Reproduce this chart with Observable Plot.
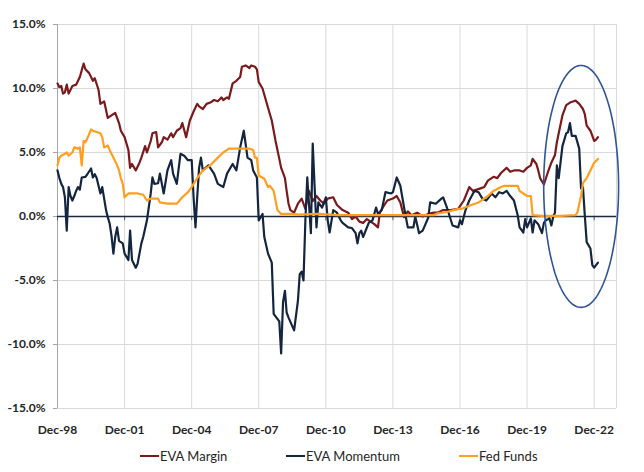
<!DOCTYPE html>
<html>
<head>
<meta charset="utf-8">
<script src="https://cdn.jsdelivr.net/npm/d3@7"></script>
<script src="https://cdn.jsdelivr.net/npm/@observablehq/plot@0.6"></script>
<style>
  html, body { margin: 0; padding: 0; background: #fff; }
  #wrap { width: 644px; height: 472px; position: relative; font-family: Lato, "Open Sans", sans-serif; }
  #legend { position: relative; height: 27px; width: 644px; font-size: 13px; color: #262626; }
  .item { position: absolute; top: 3px; display: flex; align-items: center; white-space: nowrap; }
  .swatch { display: inline-block; width: 19px; height: 2.5px; margin-right: 1px; }
</style>
</head>
<body>
<div id="wrap">
  <div id="chart"></div>
  <div id="legend"></div>
</div>
<script>
// Months counted from Dec-1998 (0 = Dec-98), values in percent
const evaMargin = [
  [0,10.4],[1,10.1],[2,10.2],[3,9.6],[4,9.7],[5,10.3],[6,9.6],[8,10.2],[10,10.3],[12,10.9],[14,11.95],[15,11.5],
  [17,11.2],[19,10.6],[20,10.8],[22,9.9],[23,8.8],[25,9.0],[27,7.7],[29,7.9],[31,8.1],[33,7.3],[34,6.7],[36,6.2],
  [38,5.2],[39,3.8],[40,4.1],[42,3.6],[44,4.2],[45,4.6],[47,5.5],[48,5.0],[50,5.9],[51,6.5],[53,6.6],[54,5.4],
  [56,5.8],[57,6.2],[59,6.0],[61,6.5],[62,6.2],[64,6.7],[66,6.9],[67,7.3],[69,6.2],[71,7.5],[73,8.2],[75,8.8],
  [76,8.6],[78,8.4],[80,8.8],[82,8.9],[84,9.1],[86,9.0],[88,9.3],[89,9.1],[91,9.3],[92,9.2],[94,10.4],[96,10.6],
  [98,10.9],[99,11.7],[101,11.8],[103,11.6],[104,11.8],[106,11.7],[107,11.5],[108,10.5],[110,10.0],[113,8.5],
  [115,7.5],[117,5.9],[119,4.5],[120,3.8],[121,3.4],[122,3.0],[123,2.0],[124,1.0],[125,0.5],[127,0.3],[129,1.0],
  [131,1.4],[133,0.6],[135,2.0],[137,1.2],[139,1.6],[141,1.25],[143,1.0],[145,1.4],[148,1.5],[150,0.9],[153,0.5],
  [156,0.3],[158,-0.2],[160,0.0],[162,-0.4],[164,-0.5],[166,-0.2],[168,-0.4],[170,-0.6],[172,-0.85],[173,0.3],
  [175,0.8],[177,1.25],[180,1.4],[182,1.6],[184,1.1],[186,-0.05],[188,0.4],[190,0.1],[193,0.3],[196,0.0],
  [199,0.2],[202,0.3],[204,0.3],[207,0.5],[211,0.5],[215,0.6],[218,1.25],[221,2.3],[223,2.0],[225,2.1],[227,2.2],
  [229,2.3],[231,2.8],[234,3.1],[236,3.0],[238,3.4],[241,3.8],[243,3.5],[245,3.6],[248,3.6],[250,3.5],[252,3.8],
  [254,4.0],[255,4.5],[257,4.1],[258,3.6],[259,3.0],[261,2.5],[263,3.4],[265,4.2],[267,4.8],[268,5.8],[269,6.5],
  [271,7.9],[273,8.7],[275,8.9],[277,9.0],[278,9.05],[280,8.8],[282,8.4],[283,8.0],[284,7.1],[286,6.7],[288,5.9],
  [289,6.0],[290,6.2]
];

const evaMomentum = [
  [0,3.6],[1,3.0],[2,2.55],[3,2.3],[4,1.5],[5,-1.1],[6,2.3],[7,1.6],[8,1.25],[9,1.6],[10,2.0],[11,2.3],[12,2.1],
  [13,3.05],[15,3.1],[16,3.3],[18,3.75],[19,3.05],[20,3.3],[21,3.0],[22,2.4],[23,1.8],[24,2.3],[25,1.4],[26,0.5],
  [27,-0.05],[28,-0.55],[29,-1.5],[30,-2.9],[31,-1.6],[32,-0.85],[33,-1.9],[34,-2.0],[35,-2.1],[36,-2.9],[38,-3.4],
  [39,-1.1],[40,-3.4],[42,-4.0],[43,-3.7],[45,-2.1],[46,-1.6],[48,-0.3],[50,1.8],[51,3.05],[52,2.55],[54,2.6],
  [55,3.35],[57,1.8],[59,3.6],[61,4.4],[62,3.35],[64,2.55],[66,4.9],[68,4.75],[70,4.4],[72,4.4],[73,1.5],[74,-0.85],
  [75,1.5],[76,3.8],[77,4.6],[78,3.6],[81,4.0],[84,3.35],[86,2.55],[89,2.3],[91,3.35],[94,4.1],[96,3.6],[98,5.4],
  [100,6.7],[102,4.6],[104,4.4],[105,3.6],[107,3.05],[108,-0.3],[110,0.2],[111,-1.6],[113,-2.9],[115,-3.6],
  [116,-7.6],[119,-8.2],[120,-10.7],[121,-6.7],[122,-5.8],[123,-7.5],[124,-7.9],[127,-8.9],[129,-6.6],[130,-4.5],
  [131,-4.3],[132,-5.0],[133,-0.3],[134,3.05],[136,-1.3],[137,5.7],[138,2.3],[139,-0.85],[140,1.1],[142,0.7],
  [144,1.5],[145,-0.3],[146,-1.25],[148,0.5],[150,0.3],[152,-0.3],[153,-0.5],[156,-0.85],[158,-0.9],[160,-1.3],
  [161,-2.1],[162,-1.3],[163,-1.1],[164,-1.6],[167,-0.5],[169,-0.3],[171,0.7],[172,0.2],[174,0.5],[176,1.9],
  [179,1.8],[180,1.9],[182,3.05],[184,2.4],[186,0.7],[188,-0.85],[191,-0.85],[192,0.0],[194,-1.3],[196,-1.1],
  [199,-0.1],[200,1.1],[203,1.0],[206,1.4],[207,1.5],[209,0.7],[212,-0.7],[215,-0.85],[216,-0.3],[217,-0.6],
  [219,0.5],[221,1.25],[223,1.8],[224,2.0],[226,1.9],[228,1.4],[230,1.25],[231,1.4],[233,1.8],[235,1.5],[237,1.9],
  [239,1.8],[241,2.0],[243,1.6],[245,1.25],[247,0.1],[248,-0.85],[250,-1.25],[251,-0.2],[252,-0.85],[254,-0.15],
  [255,-1.25],[256,-0.3],[257,-0.45],[258,-0.6],[260,-1.3],[261,-0.5],[262,-0.3],[264,-0.15],[265,-0.7],[266,0.0],
  [267,0.3],[268,4.0],[269,3.0],[271,5.5],[273,6.5],[274,6.6],[275,7.3],[276,6.3],[278,6.3],[280,5.3],[281,2.2],
  [282,2.3],[283,0.1],[284,-2.0],[286,-2.5],[287,-3.8],[288,-4.0],[290,-3.6]
];

const fedFunds = [
  [0,4.0],[1,4.6],[2,4.75],[4,4.9],[5,5.0],[6,4.75],[8,5.0],[9,5.4],[11,5.3],[12,5.4],[13,4.0],[14,5.9],[15,5.8],
  [16,6.1],[18,6.8],[19,6.7],[21,6.6],[23,6.5],[24,6.2],[25,5.4],[27,5.55],[28,5.2],[30,4.6],[32,4.0],[33,3.6],
  [34,3.0],[35,2.55],[36,1.5],[38,1.8],[43,1.8],[46,1.7],[48,1.25],[50,1.4],[54,1.4],[55,1.1],[59,1.0],[64,1.0],
  [67,1.5],[70,1.9],[72,2.3],[75,3.0],[78,3.6],[82,4.0],[86,4.6],[89,5.0],[92,5.3],[97,5.3],[103,5.3],[105,5.2],
  [106,4.6],[107,4.6],[108,3.2],[111,2.95],[113,2.3],[114,2.4],[116,2.0],[118,0.5],[120,0.2],[125,0.2],[130,0.15],
  [140,0.2],[150,0.1],[160,0.1],[170,0.1],[180,0.1],[190,0.1],[202,0.1],[204,0.25],[209,0.35],[215,0.6],[217,0.6],
  [222,0.9],[226,1.1],[231,1.6],[234,2.0],[238,2.3],[240,2.4],[247,2.4],[248,2.0],[252,1.6],[254,1.6],[255,0.1],
  [260,0.05],[270,0.05],[278,0.1],[279,0.3],[281,1.6],[282,2.6],[284,3.0],[286,3.6],[288,4.2],[290,4.5]
];

const tickYears = [1998, 2001, 2004, 2007, 2010, 2013, 2016, 2019, 2022];
const tickLabels = ["Dec-98","Dec-01","Dec-04","Dec-07","Dec-10","Dec-13","Dec-16","Dec-19","Dec-22"];
const yTicks = [-15, -10, -5, 0, 5, 10, 15];
const seriesNames = ["EVA Margin", "EVA Momentum", "Fed Funds"];
const seriesColors = ["#7b1a1c", "#14263f", "#ff9e1f"];
// Highlight ellipse (in data units): centre month, centre %, radius months, radius %
const highlight = {month: 281, value: 2.35, rMonths: 20.1, rValue: 9.45};

const start = new Date(Date.UTC(1998, 11, 1));
const toDate = m => {
  const i = Math.floor(m);
  const a = d3.utcMonth.offset(start, i), b = d3.utcMonth.offset(start, i + 1);
  return new Date(+a + (m - i) * (b - a));
};
const toRows = (arr, name) => arr.map(([m, v]) => ({date: toDate(m), value: v, series: name}));

const rows = [
  ...toRows(evaMargin, seriesNames[0]),
  ...toRows(evaMomentum, seriesNames[1]),
  ...toRows(fedFunds, seriesNames[2])
];
const tickDates = tickYears.map(y => new Date(Date.UTC(y, 11, 1)));
const endDate = new Date(Date.UTC(2023, 11, 1));
const ellipse = d3.range(0, 361, 2).map(a => {
  const t = a * Math.PI / 180;
  return {date: toDate(highlight.month + highlight.rMonths * Math.cos(t)), value: highlight.value + highlight.rValue * Math.sin(t)};
});

const chart = Plot.plot({
  width: 644,
  height: 445,
  marginLeft: 57,
  marginRight: 28,
  marginTop: 24,
  marginBottom: 37,
  style: {fontFamily: "Lato, 'Open Sans', sans-serif", fontSize: "12px", fontWeight: "bold", color: "#262626", background: "white"},
  x: {type: "utc", domain: [start, endDate]},
  y: {domain: [-15, 15]},
  color: {domain: seriesNames, range: seriesColors},
  marks: [
    Plot.gridY(yTicks, {stroke: "#d9d9d9", strokeOpacity: 1}),
    Plot.gridX([...tickDates, endDate], {stroke: "#d9d9d9", strokeOpacity: 1}),
    Plot.ruleX([start], {stroke: "#a6a6a6"}),
    Plot.axisY(yTicks, {tickSize: 4, tickPadding: 8, stroke: "#a6a6a6", fill: "#262626", tickFormat: d => d.toFixed(1) + "%", label: null}),
    Plot.axisX(tickDates, {tickSize: 0, tickPadding: 17, fill: "#262626", tickFormat: (d, i) => tickLabels[i], label: null}),
    Plot.ruleX(tickDates, {y1: 0, y2: -0.33, stroke: "#595959"}),
    Plot.ruleY([0], {stroke: "#1b2a41", strokeWidth: 1.5}),
    Plot.line(rows, {x: "date", y: "value", z: "series", stroke: "series", strokeWidth: 2.2, strokeLinejoin: "round"}),
    Plot.line(ellipse, {x: "date", y: "value", stroke: "#2f5597", strokeWidth: 1.6})
  ]
});
document.getElementById("chart").appendChild(chart);

const legend = document.getElementById("legend");
const legendLeft = [140, 286, 459];
seriesNames.forEach((name, i) => {
  const item = document.createElement("div");
  item.className = "item";
  item.style.left = legendLeft[i] + "px";
  item.innerHTML = `<span class="swatch" style="background:${seriesColors[i]}"></span><span>${name}</span>`;
  legend.appendChild(item);
});
</script>
</body>
</html>
